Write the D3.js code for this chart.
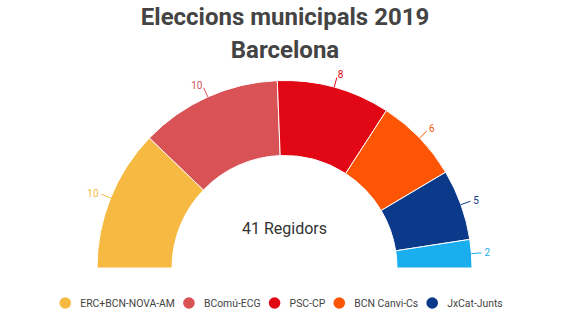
<!DOCTYPE html>
<html><head><meta charset="utf-8">
<script src="https://cdn.jsdelivr.net/npm/d3@7"></script>
<style>body{margin:0;background:#fff}svg{display:block}</style>
</head><body>
<svg id="c" width="570" height="321"></svg>
<script>
const parties = ["ERC+BCN-NOVA-AM","BComú-ECG","PSC-CP","BCN Canvi-Cs","JxCat-Junts","BCN pel Canvi"];
const seats = [10,10,8,6,5,2];
const colors = ["#F6B942","#D95256","#E20714","#FD5504","#0C3A8B","#1BAEEE"];
const legendCount = 5;
const titleLines = ["Eleccions municipals 2019","Barcelona"];
const centerLabel = "41 Regidors";

const svg = d3.select("#c");
const cx = 284.5, cy = 268, rOuter = 187.5, rInner = 112.5;
const font = "Roboto, 'Open Sans', sans-serif";

svg.selectAll("text.title").data(titleLines).join("text")
  .attr("class","title").attr("x",285).attr("y",(d,i)=>25+i*33)
  .attr("text-anchor","middle").attr("font-family",font).attr("font-weight","bold")
  .attr("font-size",24).attr("fill","#444").text(d=>d);

const pie = d3.pie().sort(null).startAngle(-Math.PI/2).endAngle(Math.PI/2).value(d=>d);
const arcs = pie(seats);
const arc = d3.arc().innerRadius(rInner).outerRadius(rOuter);
const g = svg.append("g").attr("transform",`translate(${cx},${cy})`);
g.selectAll("path").data(arcs).join("path")
  .attr("d",arc).attr("fill",(d,i)=>colors[i])
  .attr("stroke","#fff").attr("stroke-width",1);

const lineIn = d3.arc().innerRadius(rOuter).outerRadius(rOuter);
const lineOut = d3.arc().innerRadius(rOuter+10).outerRadius(rOuter+10);
const labPos = d3.arc().innerRadius(rOuter+13).outerRadius(rOuter+13);
g.selectAll("line.lab").data(arcs).join("line").attr("class","lab")
  .attr("x1",d=>lineIn.centroid(d)[0]).attr("y1",d=>lineIn.centroid(d)[1])
  .attr("x2",d=>lineOut.centroid(d)[0]).attr("y2",d=>lineOut.centroid(d)[1])
  .attr("stroke",(d,i)=>colors[i]).attr("stroke-width",1);
g.selectAll("text.lab").data(arcs).join("text").attr("class","lab")
  .attr("x",d=>labPos.centroid(d)[0]).attr("y",d=>labPos.centroid(d)[1])
  .attr("dy","0.35em")
  .attr("text-anchor",d=>((d.startAngle+d.endAngle)/2)<0?"end":"start")
  .attr("font-family",font).attr("font-size",10)
  .attr("fill",(d,i)=>colors[i]).text(d=>d.data);

svg.append("text").attr("x",cx).attr("y",234).attr("text-anchor","middle")
  .attr("font-family",font).attr("font-size",16).attr("fill","#333").text(centerLabel);

// legend
const lg = svg.append("g");
let x = 0;
const items = parties.slice(0,legendCount).map((p,i)=>({p,c:colors[i]}));
items.forEach((it)=>{
  const ig = lg.append("g");
  ig.append("circle").attr("cx",x+6).attr("cy",0).attr("r",5.8).attr("fill",it.c);
  const t = ig.append("text").attr("x",x+21).attr("y",0).attr("dy","0.35em")
    .attr("font-family",font).attr("font-size",10.4).attr("fill","#444").text(it.p);
  x += 21 + t.node().getComputedTextLength() + 8;
});
const totalW = x - 8;
lg.attr("transform",`translate(${281 - totalW/2},303)`);
</script>
</body></html>
